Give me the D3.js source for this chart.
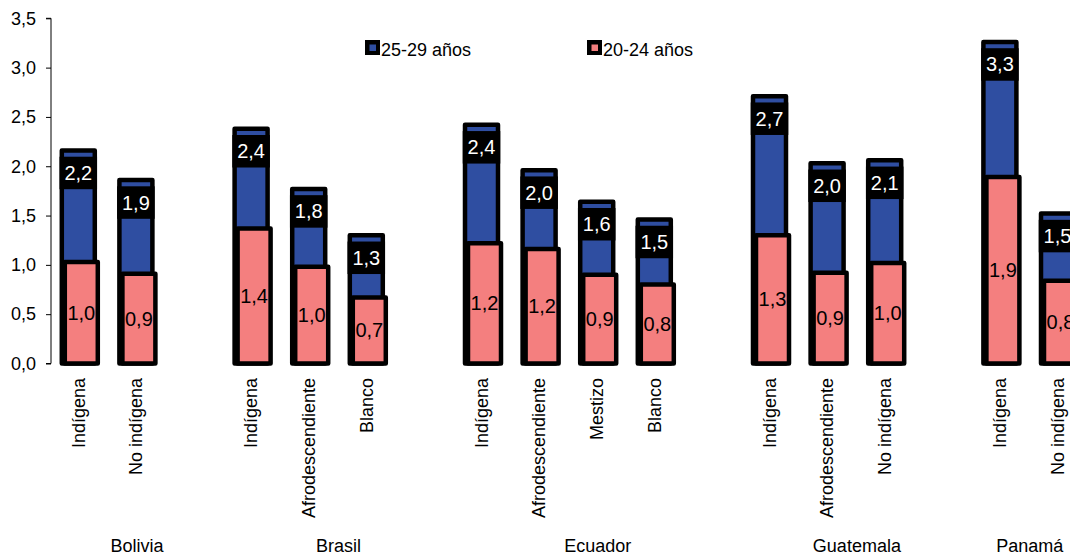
<!DOCTYPE html>
<html>
<head>
<meta charset="utf-8">
<script src="https://cdn.jsdelivr.net/npm/d3@7"></script>
<style>
  html, body { margin: 0; padding: 0; background: #ffffff; }
  svg { display: block; font-family: "Liberation Sans", Arial, Helvetica, sans-serif; }
</style>
</head>
<body>
<svg id="chart" width="1070" height="557"></svg>
<script>
// ---- data ----
const countries = ["Bolivia", "Brasil", "Ecuador", "Guatemala", "Panamá"];
const categories = ["Indígena", "No indígena",
                    "Indígena", "Afrodescendiente", "Blanco",
                    "Indígena", "Afrodescendiente", "Mestizo", "Blanco",
                    "Indígena", "Afrodescendiente", "No indígena",
                    "Indígena", "No indígena"];
const categoryCountry = ["Bolivia", "Bolivia",
                         "Brasil", "Brasil", "Brasil",
                         "Ecuador", "Ecuador", "Ecuador", "Ecuador",
                         "Guatemala", "Guatemala", "Guatemala",
                         "Panamá", "Panamá"];
const series2529 = [2.16, 1.86, 2.38, 1.77, 1.30, 2.42, 1.96, 1.64, 1.46, 2.71, 2.03, 2.06, 3.26, 1.52];
const series2024 = [1.03, 0.91, 1.37, 0.98, 0.67, 1.22, 1.16, 0.90, 0.80, 1.30, 0.92, 1.02, 1.89, 0.84];
const seriesNames = ["25-29 años", "20-24 años"];
const yTicks = [0, 0.5, 1.0, 1.5, 2.0, 2.5, 3.0, 3.5];

// ---- build slot list (blank slot between countries) ----
const slots = [];
const rows = [];
countries.forEach((c, ci) => {
  categories.forEach((cat, i) => {
    if (categoryCountry[i] === c) {
      const key = c + "|" + cat;
      slots.push(key);
      rows.push({ key, cat, country: c, a: series2529[i], b: series2024[i] });
    }
  });
  if (ci < countries.length - 1) slots.push("blank" + ci);
});

const svg = d3.select("#chart");
const BLUE = "#2f4ea1";
const PINK = "#f47f7f";
const fmt = v => d3.format(".1f")(v).replace(".", ",");

const x = d3.scaleBand().domain(slots).range([50.5, 50.5 + slots.length * 57.6]).paddingInner(0).paddingOuter(0);
const y = d3.scaleLinear().domain([0, 3.5]).range([363.5, 18.3]);
const bw = x.bandwidth();
const barW = 33;

svg.append("rect").attr("width", 1070).attr("height", 557).attr("fill", "#fff");

// ---- y axis ----
const yAxis = d3.axisLeft(y).tickValues(yTicks).tickSize(5).tickPadding(10).tickFormat(fmt);
const gy = svg.append("g").attr("transform", "translate(51,0)").call(yAxis);
gy.select(".domain").attr("stroke", "#000").attr("stroke-width", 1).attr("d", `M-5,${y(3.5)}H0V${y(0)}H-5`);
gy.selectAll(".tick line").attr("stroke", "#000");
gy.selectAll(".tick text").attr("font-size", 18).attr("fill", "#000")
  .attr("font-family", "'Liberation Sans', Arial, sans-serif");

// ---- bars ----
const g = svg.append("g");
rows.forEach(d => {
  const c = x(d.key) + bw / 2;
  const bx = c - 17.5, px = c - 14.5;
  // blue bar
  g.append("rect").attr("x", bx).attr("y", y(d.a)).attr("width", barW).attr("height", y(0) - y(d.a))
    .attr("fill", BLUE).attr("stroke", "#000").attr("stroke-width", 4.5).attr("stroke-linejoin", "round");
  // blue label box
  const ly = y(d.a) + 8.5;
  g.append("rect").attr("x", bx).attr("y", ly).attr("width", barW).attr("height", 28)
    .attr("fill", "#000").attr("stroke", "#000").attr("stroke-width", 4.5);
  g.append("text").attr("x", bx + barW / 2).attr("y", ly + 14).attr("dy", "0.35em")
    .attr("text-anchor", "middle").attr("fill", "#fff").attr("font-size", 20).text(fmt(d.a));
  // pink bar
  g.append("rect").attr("x", px).attr("y", y(d.b)).attr("width", barW).attr("height", y(0) - y(d.b))
    .attr("fill", PINK).attr("stroke", "#000").attr("stroke-width", 4.5).attr("stroke-linejoin", "round");
  g.append("text").attr("x", px + barW / 2).attr("y", (y(d.b) + y(0)) / 2).attr("dy", "0.35em")
    .attr("text-anchor", "middle").attr("fill", "#000").attr("font-size", 20).text(fmt(d.b));
});

// ---- category labels (rotated) ----
rows.forEach(d => {
  const c = x(d.key) + bw / 2 - 1;
  svg.append("text").attr("transform", `translate(${c},378) rotate(-90)`)
    .attr("text-anchor", "end").attr("dy", "0.35em").attr("font-size", 18).attr("fill", "#000").text(d.cat);
});

// ---- country labels ----
countries.forEach((c, ci) => {
  const ks = rows.filter(r => r.country === c).map(r => r.key);
  const start = x(ks[0]);
  let end = x(ks[ks.length - 1]) + bw;
  if (ci < countries.length - 1) end += bw;
  svg.append("text").attr("x", (start + end) / 2).attr("y", 552)
    .attr("text-anchor", "middle").attr("font-size", 18).attr("fill", "#000").text(c);
});

// ---- legend ----
const legendX = [365, 587];
const legendColors = [BLUE, PINK];
seriesNames.forEach((n, i) => {
  const lg = svg.append("g").attr("transform", `translate(${legendX[i]},40)`);
  lg.append("rect").attr("width", 15).attr("height", 15).attr("fill", "#000");
  lg.append("rect").attr("x", 4.5).attr("y", 4.5).attr("width", 6.5).attr("height", 6.5).attr("fill", legendColors[i]);
  lg.append("text").attr("x", 16).attr("y", 15.5).attr("font-size", 18).attr("fill", "#000").text(n);
});
</script>
</body>
</html>
